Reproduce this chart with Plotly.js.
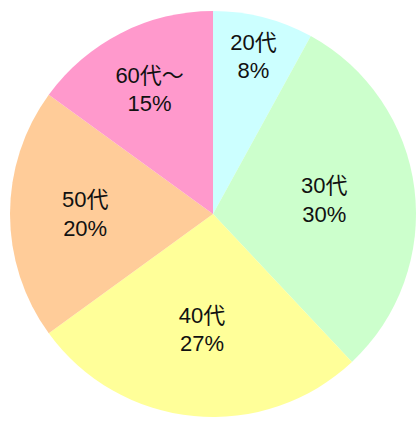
<!DOCTYPE html>
<html>
<head>
<meta charset="utf-8">
<script src="https://cdn.plot.ly/plotly-3.0.1.min.js"></script>
<style>html,body{margin:0;padding:0;background:#fff;}#chart{width:419px;height:421px;}</style>
</head>
<body>
<div id="chart"></div>
<script>
const categories = ["20代", "30代", "40代", "50代", "60代～"];
const values = [8, 30, 27, 20, 15];
const colors = ["#ccffff", "#ccffcc", "#ffff99", "#ffcc99", "#ff99cc"];

const trace = {
  type: "pie",
  labels: categories,
  values: values,
  sort: false,
  direction: "clockwise",
  rotation: 0,
  marker: { colors: colors, line: { width: 0 } },
  texttemplate: "%{label}<br>%{value}%",
  textposition: "inside",
  insidetextorientation: "horizontal",
  textfont: { family: "Liberation Sans, Arial, Noto Sans CJK JP, sans-serif", size: 22, color: "#111" },
  hoverinfo: "none",
  showlegend: false,
  domain: { x: [10/419, 416/419], y: [4/421, 410/421] }
};

Plotly.newPlot("chart", [trace], {
  width: 419, height: 421,
  margin: { l: 0, r: 0, t: 0, b: 0 },
  paper_bgcolor: "#fff",
  showlegend: false
}, { displayModeBar: false, staticPlot: true });
</script>
</body>
</html>
